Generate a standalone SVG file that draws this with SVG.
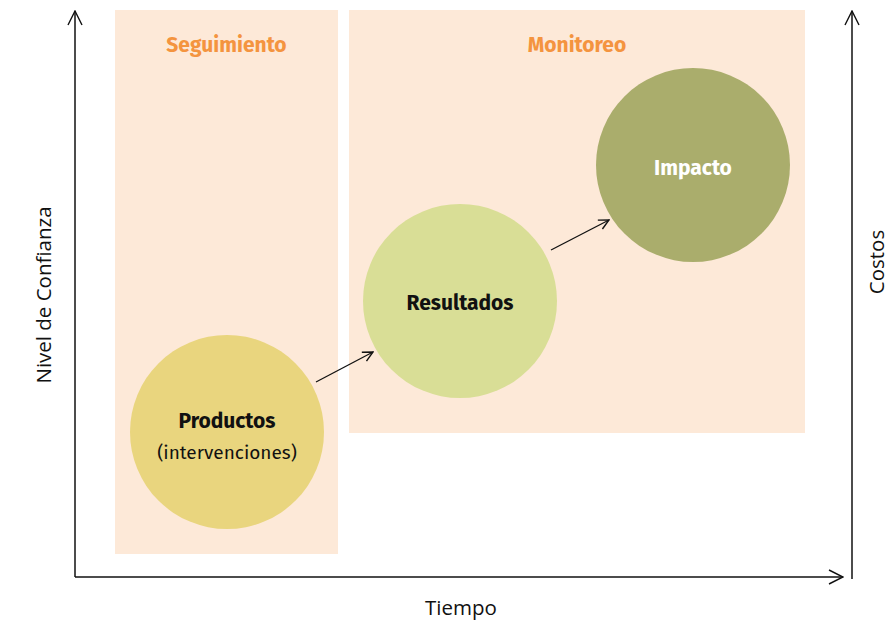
<svg xmlns="http://www.w3.org/2000/svg" width="890" height="620" viewBox="0 0 890 620">
<style>
.band{fill:#fde9d8}
.title{font-family:"Fira Sans","Open Sans","Noto Sans",sans-serif;font-weight:bold;font-size:21px;fill:#f4943f;text-anchor:middle}
.lbl{font-family:"Fira Sans","Noto Sans","Open Sans",sans-serif;font-size:19px;fill:#111;text-anchor:middle}
.ax{font-family:"Open Sans","Noto Sans",sans-serif;font-size:20.5px;fill:#111;text-anchor:middle}
.bold{font-weight:bold;font-size:21px}
.axis{stroke:#111;stroke-width:1.5;fill:none}
.conn{stroke:#111;stroke-width:1.3;fill:none}
</style>
<defs>
<marker id="ah" viewBox="0 0 12 12" refX="11" refY="6" markerWidth="12" markerHeight="12" markerUnits="userSpaceOnUse" orient="auto">
<path d="M1,1 L11,6 L1,11" fill="none" stroke="#111" stroke-width="1.4"/>
</marker>
<marker id="ah2" viewBox="0 0 16 16" refX="15" refY="8" markerWidth="16" markerHeight="16" markerUnits="userSpaceOnUse" orient="auto">
<path d="M1,1 L15,8 L1,15" fill="none" stroke="#111" stroke-width="1.4"/>
</marker>
</defs>
<g id="seguimiento">
<rect class="band" x="115" y="10" width="223" height="544"/>
<text class="title" x="226.5" y="52">Seguimiento</text>
</g>
<g id="monitoreo">
<rect class="band" x="349" y="10" width="456" height="423"/>
<text class="title" x="577" y="52">Monitoreo</text>
</g>
<g id="axes">
<path class="axis" d="M75,577 L75,11" marker-end="url(#ah2)"/>
<path class="axis" d="M75,577 L843,577" marker-end="url(#ah2)"/>
<path class="axis" d="M852,579 L852,11" stroke="#444" marker-end="url(#ah2)"/>
<text class="ax" x="461" y="615">Tiempo</text>
<text class="ax" transform="translate(51,295) rotate(-90)">Nivel de Confianza</text>
<text class="ax" transform="translate(884,262) rotate(-90)">Costos</text>
</g>
<g id="productos">
<circle cx="227" cy="432" r="97" fill="#e9d57e"/>
<text class="lbl bold" x="227" y="428">Productos</text>
<text class="lbl" x="227" y="459">(intervenciones)</text>
</g>
<g id="resultados">
<circle cx="460" cy="301" r="97" fill="#d9de96"/>
<text class="lbl bold" x="460" y="310">Resultados</text>
</g>
<g id="impacto">
<circle cx="693" cy="165" r="97" fill="#aaad6c"/>
<text class="lbl bold" x="693" y="175" style="fill:#fff">Impacto</text>
</g>
<g id="connectors">
<path class="conn" d="M316,382 L373,352" marker-end="url(#ah)"/>
<path class="conn" d="M551,250 L609,220" marker-end="url(#ah)"/>
</g>
</svg>
